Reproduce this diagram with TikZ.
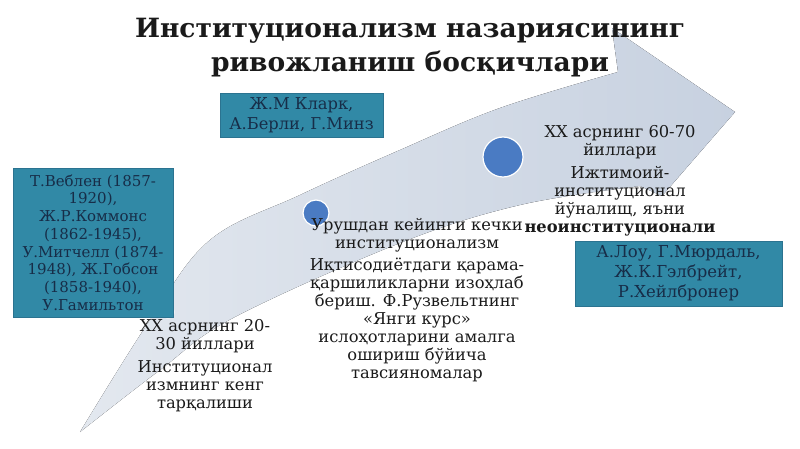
\documentclass[tikz,border=0pt]{standalone}
\usepackage{fontspec}
\setmainfont{DejaVu Serif}
\usetikzlibrary{positioning}
\definecolor{boxteal}{HTML}{3189A6}
\definecolor{boxedge}{HTML}{2B7390}
\definecolor{boxtext}{HTML}{172D48}
\definecolor{dotblue}{HTML}{4A7BC3}
\definecolor{inkblack}{HTML}{1A1A1A}
\definecolor{arrowlight}{HTML}{E3E8EF}
\definecolor{arrowdark}{HTML}{C7D1E0}

\begin{document}
\begin{tikzpicture}[x=1pt,y=-1pt,
    box/.style={draw=boxedge, fill=boxteal, text=boxtext, align=center, inner sep=0pt},
    stage/.style={align=center, text=inkblack, inner sep=0pt, font=\fontsize{16.3}{18}\selectfont},
    dot/.style={circle, fill=dotblue, draw=white, line width=1.2pt, inner sep=0pt}]
    \useasboundingbox (0,0) rectangle (800,449);
    % big arrow in the back
    \fill[left color=arrowlight, right color=arrowdark]
        plot[smooth, tension=0.6] coordinates {(80,432) (160,370) (233,318) (400,243) (520,205) (640,186)}
        -- (662,196) -- (735,112) -- (612,28) --
        plot[smooth, tension=0.6] coordinates {(618,72) (500,108) (400,150) (300,195) (210,240) (150,320) (80,432)};
    % points on the arrow
    \node[dot, minimum size=12pt] (p_1) at (168,312) {};
    \node[dot, minimum size=26pt] (p_2) at (316,213) {};
    \node[dot, minimum size=40pt] (p_3) at (503,157) {};
    % title
    \node[align=center, text=inkblack, font=\bfseries\fontsize{26.5}{34}\selectfont] (title) at (410,48)
        {Институционализм назариясининг\\ривожланиш босқичлари};
    % name boxes
    \node[box, minimum width=160pt, minimum height=149pt, font=\fontsize{15}{17.7}\selectfont] (names_1) at (93,242.5)
        {Т.Веблен (1857-\\1920),\\Ж.Р.Коммонс\\(1862-1945),\\У.Митчелл (1874-\\1948), Ж.Гобсон\\(1858-1940),\\У.Гамильтон};
    \node[box, minimum width=163pt, minimum height=44pt, font=\fontsize{16.3}{20}\selectfont] (names_2) at (301.5,115)
        {Ж.М Кларк,\\А.Берли, Г.Минз};
    \node[box, minimum width=207pt, minimum height=65pt, font=\fontsize{16.5}{20}\selectfont] (names_3) at (678.5,273.5)
        {А.Лоу, Г.Мюрдаль,\\Ж.К.Гэлбрейт,\\Р.Хейлбронер};
    % stages
    \node[stage] (stage_1) at (205,336) {ХХ асрнинг 20-\\30 йиллари};
    \node[stage] (desc_1) [below=7pt of stage_1] {Институционал\\измнинг кенг\\тарқалиши};
    \node[stage] (stage_2) at (417,235) {Урушдан кейинги кечки\\институционализм};
    \node[stage] (desc_2) [below=6pt of stage_2] {Иқтисодиётдаги қарама-\\қаршиликларни изоҳлаб\\бериш. Ф.Рузвельтнинг\\«Янги курс»\\ислоҳотларини амалга\\ошириш бўйича\\тавсияномалар};
    \node[stage] (stage_3) at (620,142) {ХХ асрнинг 60-70\\йиллари};
    \node[stage] (desc_3) [below=7pt of stage_3] {Ижтимоий-\\институционал\\йўналищ, яъни\\\textbf{неоинституционали}};
\end{tikzpicture}
\end{document}
